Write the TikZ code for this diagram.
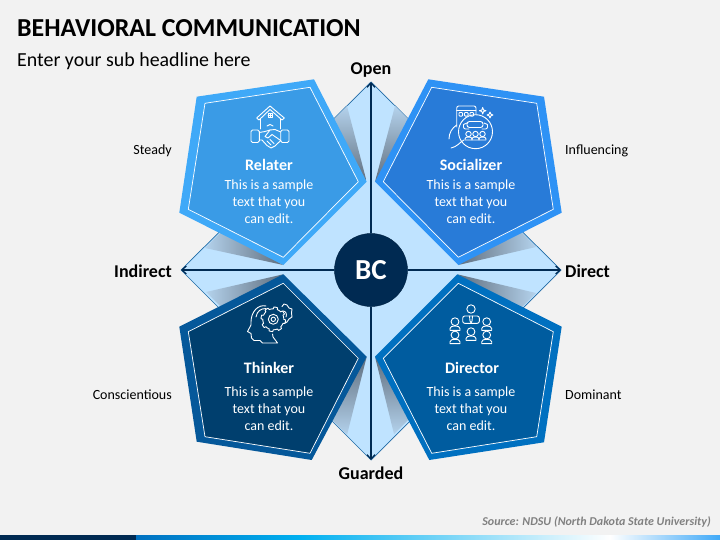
\documentclass[tikz,border=0pt]{standalone}
\usepackage{fontspec}
\setmainfont{Carlito}
\usetikzlibrary{arrows.meta}
\definecolor{pagegray}{HTML}{F2F2F2}
\definecolor{navy}{HTML}{002A52}
\definecolor{diamondfill}{HTML}{BFE3FF}
\definecolor{diamondedge}{HTML}{1F6AA5}
\definecolor{relaterout}{HTML}{3FA9F8}
\definecolor{relaterin}{HTML}{3A9BE6}
\definecolor{socialout}{HTML}{2E92F5}
\definecolor{socialin}{HTML}{287BD8}
\definecolor{thinkout}{HTML}{05589A}
\definecolor{thinkin}{HTML}{003F6E}
\definecolor{directout}{HTML}{0070C0}
\definecolor{directin}{HTML}{005C9F}
\definecolor{barcyan}{HTML}{00B0F0}
\definecolor{wedgelight}{HTML}{B4D2EC}
\definecolor{wedgedark}{HTML}{5F6E7E}
\tikzset{
  wedgedown/.style={top color=wedgelight, bottom color=wedgedark},
  wedgeup/.style={top color=wedgedark, bottom color=wedgelight},
  wedgeright/.style={left color=wedgelight, right color=wedgedark},
  wedgeleft/.style={left color=wedgedark, right color=wedgelight},
  axisline/.style={navy, line width=1.2pt, -{Straight Barb[length=4.5pt,width=8pt]}},
  iconline/.style={white, line width=0.9pt},
  headtext/.style={font=\bfseries\fontsize{16}{19}\selectfont, text=white, inner sep=0pt},
  bodytext/.style={font=\fontsize{14}{17}\selectfont, text=white, align=center, inner sep=0pt},
  sidetext/.style={font=\fontsize{14}{16}\selectfont, inner sep=0pt},
  axistext/.style={font=\bfseries\fontsize{18}{21}\selectfont, inner sep=0pt}
}
\newcommand{\iconperson}[3]{%
  \begin{scope}[shift={(#1,#2)}, scale=#3]
    \draw[iconline] (0,0) circle (3.9pt);
    \draw[iconline] (-5,8.6) -- (-5,6.8) .. controls (-5,4.8) and (-2.5,4.3) .. (0,4.3)
      .. controls (2.5,4.3) and (5,4.8) .. (5,6.8) -- (5,8.6) -- cycle;
  \end{scope}}
\newcommand{\icongear}[4]{%
  \draw[iconline] plot[samples=129, domain=0:360] ({#1+(#3+1.8*(sin(#4*\x)>0))*cos(\x)},{#2+(#3+1.8*(sin(#4*\x)>0))*sin(\x)}) -- cycle;}
\begin{document}
\begin{tikzpicture}[x=1pt, y=-1pt, line cap=round, line join=round]
  \useasboundingbox (0,0) rectangle (720,540);
  \fill[pagegray] (0,0) rectangle (720,540);
  % bottom bar
  \fill[navy] (0,535) rectangle (136,540);
  \shade[left color=directout, right color=barcyan] (136,535) rectangle (300,540);
  \shade[left color=barcyan, right color=white] (300,535) rectangle (610,540);
  \shade[left color=white, right color=relaterout] (610,535) rectangle (720,540);
  % title
  \node[anchor=west, inner sep=0pt, font=\bfseries\fontsize{25.9}{30}\selectfont] (title) at (17,28) {BEHAVIORAL COMMUNICATION};
  \node[anchor=west, inner sep=0pt, font=\fontsize{19.9}{23}\selectfont] (subtitle) at (17,61) {Enter your sub headline here};
  \node[anchor=east, inner sep=0pt, text=gray, font=\bfseries\itshape\fontsize{12}{14}\selectfont] (source) at (711,522) {Source: NDSU (North Dakota State University)};
  % diamond
  \coordinate (opentip) at (371,82);
  \coordinate (guardtip) at (371,460);
  \coordinate (indirtip) at (181,270);
  \coordinate (dirtip) at (561,270);
  \draw[diamondedge, fill=diamondfill, line width=0.7pt] (opentip) -- (dirtip) -- (guardtip) -- (indirtip) -- cycle;
  % wedges under the pentagons
  \shade[wedgedown] (366.7,181.7) -- (347,106) -- (325,128) -- cycle;
  \shade[wedgeright] (283.3,265) -- (205,248) -- (222,231) -- cycle;
  \shade[wedgedown] (375,181.7) -- (395,106) -- (417,128) -- cycle;
  \shade[wedgeleft] (458.3,265) -- (536,247) -- (518,229) -- cycle;
  \shade[wedgeright] (283.3,274.3) -- (206,292) -- (224,310) -- cycle;
  \shade[wedgeup] (366.7,356.7) -- (347,435) -- (325,413) -- cycle;
  \shade[wedgeleft] (457.3,274.3) -- (536,293) -- (518,311) -- cycle;
  \shade[wedgeup] (375,356.7) -- (394,434) -- (416,412) -- cycle;
  % pentagons
  \coordinate (r1) at (196.7,96.7);
  \coordinate (r2) at (314,79.3);
  \coordinate (r3) at (366.7,181.7);
  \coordinate (r4) at (283.3,265);
  \coordinate (r5) at (179.3,212.7);
  \coordinate (r6) at (205,103.3);
  \coordinate (r7) at (310,87.3);
  \coordinate (r8) at (358.3,181.7);
  \coordinate (r9) at (283.3,257.3);
  \coordinate (r10) at (188.3,209.3);
  \coordinate (s1) at (428.3,79.3);
  \coordinate (s2) at (544,96.7);
  \coordinate (s3) at (561.7,212.7);
  \coordinate (s4) at (458.3,265);
  \coordinate (s5) at (375,181.7);
  \coordinate (s6) at (431.7,87.3);
  \coordinate (s7) at (536.7,103.3);
  \coordinate (s8) at (553.3,209.3);
  \coordinate (s9) at (458.3,257.3);
  \coordinate (s10) at (383.3,181.7);
  \coordinate (t1) at (283.3,274.3);
  \coordinate (t2) at (366.7,356.7);
  \coordinate (t3) at (311.7,460);
  \coordinate (t4) at (196.7,441.7);
  \coordinate (t5) at (179.3,326.7);
  \coordinate (t6) at (283.3,283.3);
  \coordinate (t7) at (358.3,358.3);
  \coordinate (t8) at (310,453.3);
  \coordinate (t9) at (205,436.7);
  \coordinate (t10) at (188.3,331.7);
  \coordinate (d1) at (457.3,274.3);
  \coordinate (d2) at (561.7,326.7);
  \coordinate (d3) at (544,442.3);
  \coordinate (d4) at (429.3,460);
  \coordinate (d5) at (375,356.7);
  \coordinate (d6) at (458.3,283.3);
  \coordinate (d7) at (553.3,331.7);
  \coordinate (d8) at (536.7,436.7);
  \coordinate (d9) at (431.7,453.3);
  \coordinate (d10) at (383.3,358.3);
  % axes and centre
  \node[circle, fill=navy, draw=navy!80!black, minimum size=73pt, inner sep=0pt, text=white, font=\bfseries\fontsize{29}{34}\selectfont] (bc) at (371,270) {BC};
  \foreach \tip in {opentip, guardtip, indirtip, dirtip}
    \draw[axisline] (bc) -- (\tip);
  \foreach \p/\outc/\inc in {r/relaterout/relaterin, s/socialout/socialin, t/thinkout/thinkin, d/directout/directin} {
    \fill[\outc] (\p1) -- (\p2) -- (\p3) -- (\p4) -- (\p5) -- cycle;
    \draw[white, fill=\inc, line width=0.7pt] (\p6) -- (\p7) -- (\p8) -- (\p9) -- (\p10) -- cycle;
  }
  % texts
  \node[headtext] (relater) at (269,165) {Relater};
  \node[bodytext] (relaterbody) at (269,202) {This is a sample\\text that you\\can edit.};
  \node[headtext] (socializer) at (471,165) {Socializer};
  \node[bodytext] (socializerbody) at (471,202) {This is a sample\\text that you\\can edit.};
  \node[headtext] (thinker) at (269,368) {Thinker};
  \node[bodytext] (thinkerbody) at (269,409) {This is a sample\\text that you\\can edit.};
  \node[headtext] (director) at (472,368) {Director};
  \node[bodytext] (directorbody) at (471,409) {This is a sample\\text that you\\can edit.};
  \node[axistext] (open) at (371,70) {Open};
  \node[axistext] (guarded) at (371,473) {Guarded};
  \node[axistext, anchor=east] (indirect) at (172,271) {Indirect};
  \node[axistext, anchor=west] (direct) at (565,271) {Direct};
  \node[sidetext, anchor=east] (steady) at (172,151) {Steady};
  \node[sidetext, anchor=west] (influencing) at (565,151) {Influencing};
  \node[sidetext, anchor=east] (conscientious) at (172,395) {Conscientious};
  \node[sidetext, anchor=west] (dominant) at (565,395) {Dominant};
  % house and handshake
  \draw[iconline] (256.7,118) -- (270,106) -- (284.3,118) -- (282,120) -- (270,109.5) -- (259,120) -- cycle;
  \draw[iconline] (260,119) -- (260,129) (280.7,119) -- (280.7,129);
  \draw[iconline] (268,113.5) rectangle (272,117.5) (270,113.5) -- (270,117.5) (268,115.5) -- (272,115.5);
  \draw[iconline] (267,126) .. controls (269,124) and (271,124) .. (273,126);
  \draw[iconline, rounded corners=1.5pt] (251,130) rectangle (259.3,142.5);
  \draw[iconline, rounded corners=1.5pt] (280.7,130) rectangle (289,142.5);
  \draw[iconline] (259.3,132.5) -- (265,131.5) -- (270,130) -- (275,129.5) -- (280.7,132);
  \draw[iconline] (270,130) -- (265,136.5) -- (268,138) -- (272,134.5) -- (280.7,140.5);
  \draw[iconline] (259.3,140) -- (262,140) -- (267,145.5) -- (271,148) -- (275,146) -- (280.7,140.5);
  \draw[iconline] (267,141) -- (271,145) (270,139.5) -- (274,143.5);
  % phone and group
  \draw[iconline, rounded corners=2pt] (456.7,127) -- (456.7,106) -- (476,106) -- (476,114.5);
  \draw[iconline] (456.7,110.5) -- (476,110.5);
  \foreach \sx in {459,464.5,470}
    \draw[iconline, rounded corners=0.8pt] (\sx,112.5) rectangle ++(3.6,3.6);
  \draw[iconline] (475.5,131.7) circle (17pt);
  \draw[iconline, rounded corners=2.5pt] (467,121.5) rectangle (483,127.5);
  \draw[iconline, rounded corners=2pt] (463.5,124.5) -- (467,123) (463.5,124.5) -- (463.5,129) -- (469,129);
  \draw[iconline, rounded corners=2pt] (487.5,124.5) -- (484,123) (487.5,124.5) -- (487.5,129) -- (482,129);
  \iconperson{468.5}{134}{0.7}
  \iconperson{475.5}{134}{0.7}
  \iconperson{482.5}{134}{0.7}
  \draw[iconline] (456.7,125) .. controls (452,128) and (449,133) .. (449,139);
  \draw[iconline] (464,140) .. controls (460,142) and (457,147) .. (451,148);
  \draw[iconline] (482.7,107.5) -- (483.6,110) -- (486,110.7) -- (483.6,111.5) -- (482.7,114) -- (481.8,111.5) -- (479.4,110.7) -- (481.8,110) -- cycle;
  \draw[iconline] (490,112) -- (490.9,114.2) -- (493,115) -- (490.9,115.8) -- (490,118) -- (489.1,115.8) -- (487,115) -- (489.1,114.2) -- cycle;
  % head and gears
  \draw[iconline] (266,306) .. controls (258,304) and (251,312) .. (251,322)
    -- (251,325) -- (247.5,331.5) -- (251,333.5) -- (251.5,338) -- (254,340.5) -- (260,340.5) -- (262.5,343) -- (277.5,343) -- (273,337) -- (272.5,334);
  \draw[iconline] (256,317) .. controls (257,311) and (261,308.5) .. (266,308.5);
  \icongear{273.3}{319.3}{10.5}{8}
  \draw[iconline] (273.3,319.3) circle (5pt) (273.3,319.3) circle (2.2pt);
  \draw[iconline] (282,306.5) -- (284,304) -- (287,305) -- (289,308) -- (292,309) -- (291.5,313) -- (292,317) -- (289,319) -- (287,322) -- (285,323);
  \draw[iconline] (283,311) .. controls (286,311) and (287,314) .. (286,317);
  % people
  \iconperson{455}{321.7}{1}
  \iconperson{486.7}{321.7}{1}
  \iconperson{455}{335}{1}
  \iconperson{471}{331.7}{1}
  \iconperson{486.7}{335}{1}
  \draw[iconline] (471,309) circle (4.2pt);
  \draw[iconline, rounded corners=2pt] (462.7,323.3) -- (462.7,316) -- (479.3,316) -- (479.3,323.3) -- cycle;
  \draw[iconline] (469.5,316) -- (470,321) -- (471,323) -- (472,321) -- (472.5,316);
\end{tikzpicture}
\end{document}
